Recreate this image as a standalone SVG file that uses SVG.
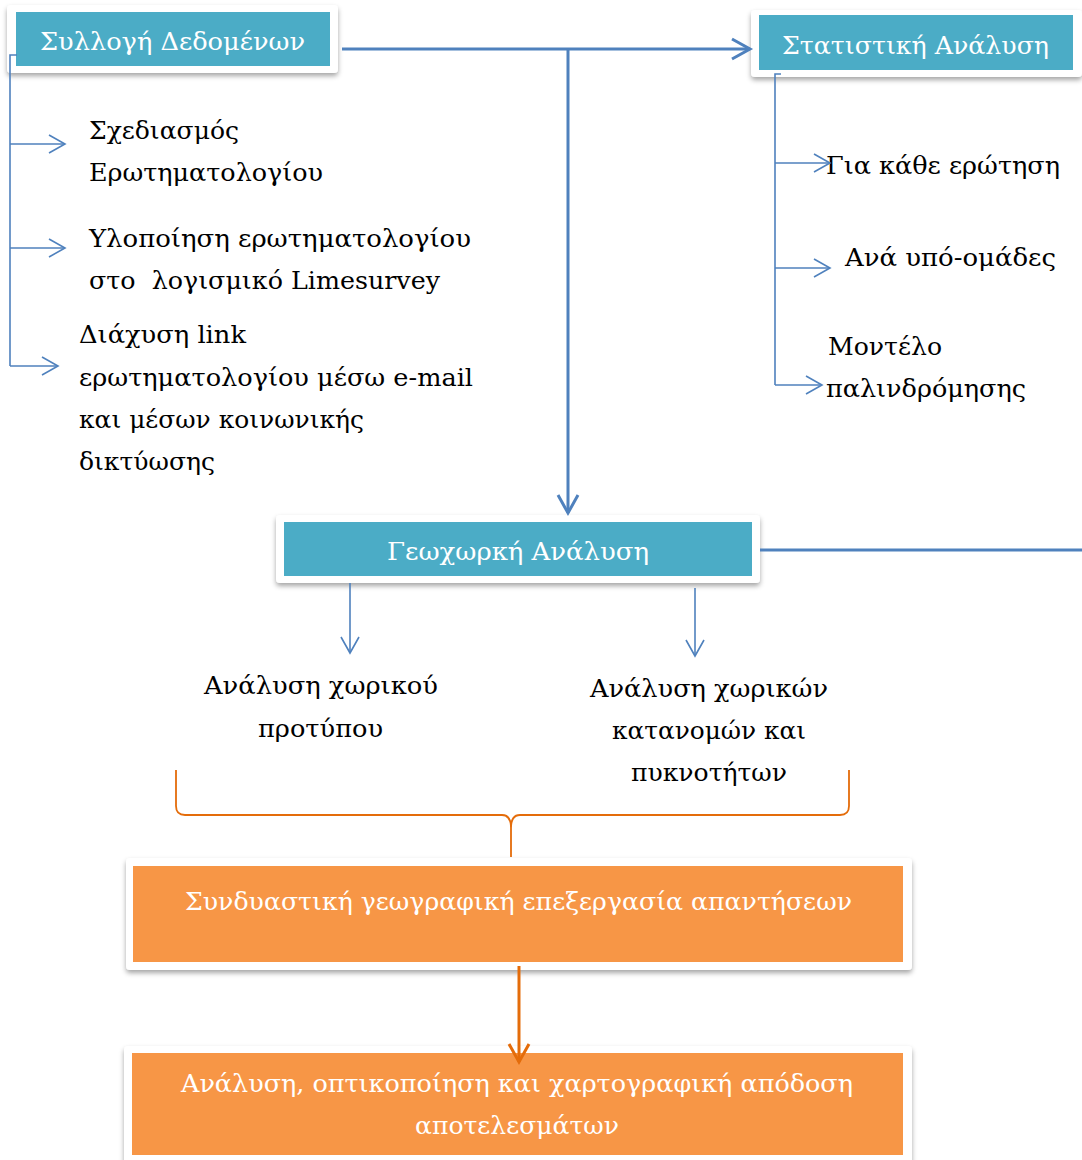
<svg xmlns="http://www.w3.org/2000/svg" width="1082" height="1160" viewBox="0 0 1082 1160">
<defs>
<filter id="sh" x="-5%" y="-20%" width="110%" height="150%">
<feDropShadow dx="0" dy="3" stdDeviation="2.5" flood-color="#000" flood-opacity="0.35"/>
</filter>
<marker id="thin" viewBox="0 0 20 20" refX="17" refY="10" markerWidth="20" markerHeight="20" markerUnits="userSpaceOnUse" orient="auto">
<path d="M1,1 L17,10 L1,19" fill="none" stroke="#4F81BD" stroke-width="1.6"/>
</marker>
<marker id="thick" viewBox="0 0 24 24" refX="20" refY="12" markerWidth="24" markerHeight="24" markerUnits="userSpaceOnUse" orient="auto">
<path d="M2,2 L20,12 L2,22" fill="none" stroke="#4F81BD" stroke-width="3"/>
</marker>
<marker id="org" viewBox="0 0 24 24" refX="20" refY="12" markerWidth="24" markerHeight="24" markerUnits="userSpaceOnUse" orient="auto">
<path d="M2,2 L20,12 L2,22" fill="none" stroke="#E46C0A" stroke-width="3"/>
</marker>
</defs>
<style>
.frame{fill:#fff;filter:url(#sh)}
.teal{fill:#4BACC6}
.orange{fill:#F79646}
.t{font-family:"DejaVu Serif","Liberation Serif",serif;font-size:25px;fill:#000}
.w{font-family:"DejaVu Serif","Liberation Serif",serif;font-size:25px;fill:#fff}
.c{text-anchor:middle}
.thin{fill:none;stroke:#4F81BD;stroke-width:1.6}
.thick{fill:none;stroke:#4F81BD;stroke-width:3}
</style>
<rect width="1082" height="1160" fill="#fff"/>

<g id="n1">
<rect class="frame" x="7" y="5" width="331" height="68" rx="4"/>
<rect class="teal" x="16" y="12" width="314" height="54"/>
<text class="w" x="40" y="50" textLength="265" lengthAdjust="spacingAndGlyphs">Συλλογή Δεδομένων</text>
</g>
<g id="n2">
<rect class="frame" x="751" y="10" width="331" height="67" rx="4"/>
<rect class="teal" x="759" y="15" width="314" height="55"/>
<text class="w" x="782" y="54" textLength="267" lengthAdjust="spacingAndGlyphs">Στατιστική Ανάλυση</text>
</g>
<g id="n3">
<rect class="frame" x="276" y="515" width="484" height="68" rx="4"/>
<rect class="teal" x="284" y="522" width="468" height="54"/>
<text class="w" x="387" y="560" textLength="262" lengthAdjust="spacingAndGlyphs">Γεωχωρκή Ανάλυση</text>
</g>
<g id="n4">
<text class="t" x="89" y="139" textLength="150" lengthAdjust="spacingAndGlyphs">Σχεδιασμός</text>
<text class="t" x="89" y="181" textLength="234" lengthAdjust="spacingAndGlyphs">Ερωτηματολογίου</text>
</g>
<g id="n5">
<text class="t" x="89" y="247" textLength="382" lengthAdjust="spacingAndGlyphs">Υλοποίηση ερωτηματολογίου</text>
<text class="t" x="89" y="289" textLength="351" lengthAdjust="spacingAndGlyphs" xml:space="preserve">στο  λογισμικό Limesurvey</text>
</g>
<g id="n6">
<text class="t" x="79" y="343" textLength="167" lengthAdjust="spacingAndGlyphs">Διάχυση link</text>
<text class="t" x="79" y="386" textLength="394" lengthAdjust="spacingAndGlyphs">ερωτηματολογίου μέσω e-mail</text>
<text class="t" x="79" y="428" textLength="285" lengthAdjust="spacingAndGlyphs">και μέσων κοινωνικής</text>
<text class="t" x="79" y="470" textLength="136" lengthAdjust="spacingAndGlyphs">δικτύωσης</text>
</g>
<g id="n7">
<text class="t" x="826" y="174" textLength="234" lengthAdjust="spacingAndGlyphs">Για κάθε ερώτηση</text>
</g>
<g id="n8">
<text class="t" x="845" y="266" textLength="211" lengthAdjust="spacingAndGlyphs">Ανά υπό-ομάδες</text>
</g>
<g id="n9">
<text class="t" x="828" y="355" textLength="114" lengthAdjust="spacingAndGlyphs">Μοντέλο</text>
<text class="t" x="826" y="397" textLength="200" lengthAdjust="spacingAndGlyphs">παλινδρόμησης</text>
</g>
<g id="n10">
<text class="t" x="204" y="694" textLength="234" lengthAdjust="spacingAndGlyphs">Ανάλυση χωρικού</text>
<text class="t" x="258" y="737" textLength="125" lengthAdjust="spacingAndGlyphs">προτύπου</text>
</g>
<g id="n11">
<text class="t" x="590" y="697" textLength="238" lengthAdjust="spacingAndGlyphs">Ανάλυση χωρικών</text>
<text class="t" x="612" y="739" textLength="194" lengthAdjust="spacingAndGlyphs">κατανομών και</text>
<text class="t" x="631" y="781" textLength="156" lengthAdjust="spacingAndGlyphs">πυκνοτήτων</text>
</g>
<g id="n12">
<rect class="frame" x="126" y="858" width="786" height="112" rx="4"/>
<rect class="orange" x="133" y="866" width="770" height="96"/>
<text class="w" x="185" y="910" textLength="667" lengthAdjust="spacingAndGlyphs">Συνδυαστική γεωγραφική επεξεργασία απαντήσεων</text>
</g>
<g id="n13">
<rect class="frame" x="124" y="1046" width="788" height="120" rx="4"/>
<rect class="orange" x="132" y="1053" width="771" height="102"/>
<text class="w" x="181" y="1092" textLength="672" lengthAdjust="spacingAndGlyphs">Ανάλυση, οπτικοποίηση και χαρτογραφική απόδοση</text>
<text class="w" x="415" y="1134" textLength="204" lengthAdjust="spacingAndGlyphs">αποτελεσμάτων</text>
</g>

<g id="connectors">
<path class="thick" d="M342,49 H750" marker-end="url(#thick)"/>
<path class="thick" d="M568,49 V513" marker-end="url(#thick)"/>
<path class="thick" d="M760,550 H1082"/>
<path class="thin" d="M17,55 H10 V366"/>
<path class="thin" d="M10,144 H65" marker-end="url(#thin)"/>
<path class="thin" d="M10,248 H65" marker-end="url(#thin)"/>
<path class="thin" d="M10,366 H58" marker-end="url(#thin)"/>
<path class="thin" d="M781,74 H775 V385"/>
<path class="thin" d="M775,163 H830" marker-end="url(#thin)"/>
<path class="thin" d="M775,268 H830" marker-end="url(#thin)"/>
<path class="thin" d="M775,385 H822" marker-end="url(#thin)"/>
<path class="thin" d="M350,583 V653" marker-end="url(#thin)"/>
<path class="thin" d="M695,588 V656" marker-end="url(#thin)"/>
<path d="M176,770 V806 Q176,815 185,815 H502 Q511,815 511,828 V857 V828 Q511,815 520,815 H840 Q849,815 849,806 V770" fill="none" stroke="#E46C0A" stroke-width="1.8"/>
<path d="M519,966 V1062" fill="none" stroke="#E46C0A" stroke-width="3" marker-end="url(#org)"/>
</g>
</svg>
